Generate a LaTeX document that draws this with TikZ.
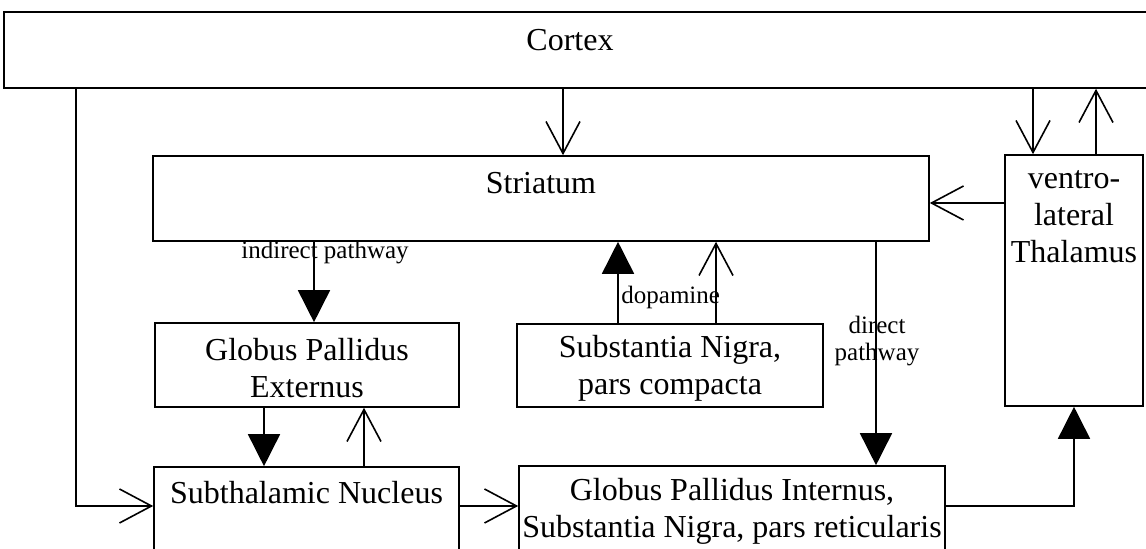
\documentclass[tikz,border=0pt]{standalone}
\usepackage{fontspec}
\setmainfont{Liberation Serif}
\usetikzlibrary{arrows.meta}

\tikzset{
  box/.style={draw, line width=0.8pt, inner sep=0pt},
  boxtext/.style={font=\fontsize{16}{18.5}\selectfont, align=center, inner sep=0pt},
  pathlabel/.style={font=\fontsize{12.5}{13.5}\selectfont, align=center, inner sep=0pt},
  excite/.style={line width=0.8pt, -{Straight Barb[length=16pt,width=17pt,line width=0.8pt]}},
  inhibit/.style={line width=0.8pt, -{Triangle[length=16pt,width=16pt]}}
}

\begin{document}
\begin{tikzpicture}[x=0.5pt,y=-0.5pt]
  \path[use as bounding box, clip] (0,0) rectangle (1146,549);

  % boxes
  \node[box, minimum width=583pt, minimum height=38pt] (cortex) at (587,50) {};
  \node[box, minimum width=388pt, minimum height=42.5pt] (striatum) at (541,198.5) {};
  \node[box, minimum width=69pt, minimum height=125.5pt] (thalamus) at (1074,280.5) {};
  \node[box, minimum width=152pt, minimum height=42pt] (gpe) at (307,365) {};
  \node[box, minimum width=153pt, minimum height=41.5pt] (snc) at (670,365.5) {};
  \node[box, minimum width=152.5pt, minimum height=66.5pt] (stn) at (306.5,533.5) {};
  \node[box, minimum width=213pt, minimum height=67pt] (gpi) at (732,533) {};

  % box texts
  \node[boxtext] (cortextxt) at (570,40) {Cortex};
  \node[boxtext] (striatumtxt) at (541,183) {Striatum};
  \node[boxtext] (thalamustxt) at (1074,217) {ventro-\\lateral\\Thalamus};
  \node[boxtext] (gpetxt) at (307,368) {Globus Pallidus\\Externus};
  \node[boxtext] (snctxt) at (670,368) {Substantia Nigra,\\pars compacta};
  \node[boxtext] (stntxt) at (306.5,493) {Subthalamic Nucleus};
  \node[boxtext] (gpitxt) at (732,511) {Globus Pallidus Internus,\\Substantia Nigra, pars reticularis};

  % pathway labels
  \node[pathlabel] (indirectlbl) at (325,253) {indirect pathway};
  \node[pathlabel, anchor=west] (dopaminelbl) at (621,297) {dopamine};
  \node[pathlabel] (directlbl) at (877,341) {direct\\pathway};

  % where the connectors run
  \coordinate (xleft) at (76,0);
  \coordinate (xcortex) at (563,0);
  \coordinate (xindirect) at (314,0);
  \coordinate (xdopa) at (618,0);
  \coordinate (xsnc) at (716,0);
  \coordinate (xdirect) at (876,0);
  \coordinate (xtodown) at (1033,0);
  \coordinate (xtoup) at (1096,0);
  \coordinate (xgpedown) at (264,0);
  \coordinate (xstnup) at (364,0);
  \coordinate (ythal) at (0,203);
  \coordinate (ybottom) at (0,506);

  % connectors
  \draw[excite] (cortex.south -| xcortex) -- (striatum.north -| xcortex);
  \draw[excite] (cortex.south -| xtodown) -- (thalamus.north -| xtodown);
  \draw[excite] (thalamus.north -| xtoup) -- (cortex.south -| xtoup);
  \draw[excite] (thalamus.west |- ythal) -- (striatum.east |- ythal);
  \draw[inhibit] (striatum.south -| xindirect) -- (gpe.north -| xindirect);
  \draw[inhibit] (snc.north -| xdopa) -- (striatum.south -| xdopa);
  \draw[excite] (snc.north -| xsnc) -- (striatum.south -| xsnc);
  \draw[inhibit] (striatum.south -| xdirect) -- (gpi.north -| xdirect);
  \draw[inhibit] (gpe.south -| xgpedown) -- (stn.north -| xgpedown);
  \draw[excite] (stn.north -| xstnup) -- (gpe.south -| xstnup);
  \draw[excite] (cortex.south -| xleft) |- (stn.west |- ybottom);
  \draw[excite] (stn.east |- ybottom) -- (gpi.west |- ybottom);
  \draw[inhibit] (gpi.east |- ybottom) -| (thalamus.south);
\end{tikzpicture}
\end{document}
